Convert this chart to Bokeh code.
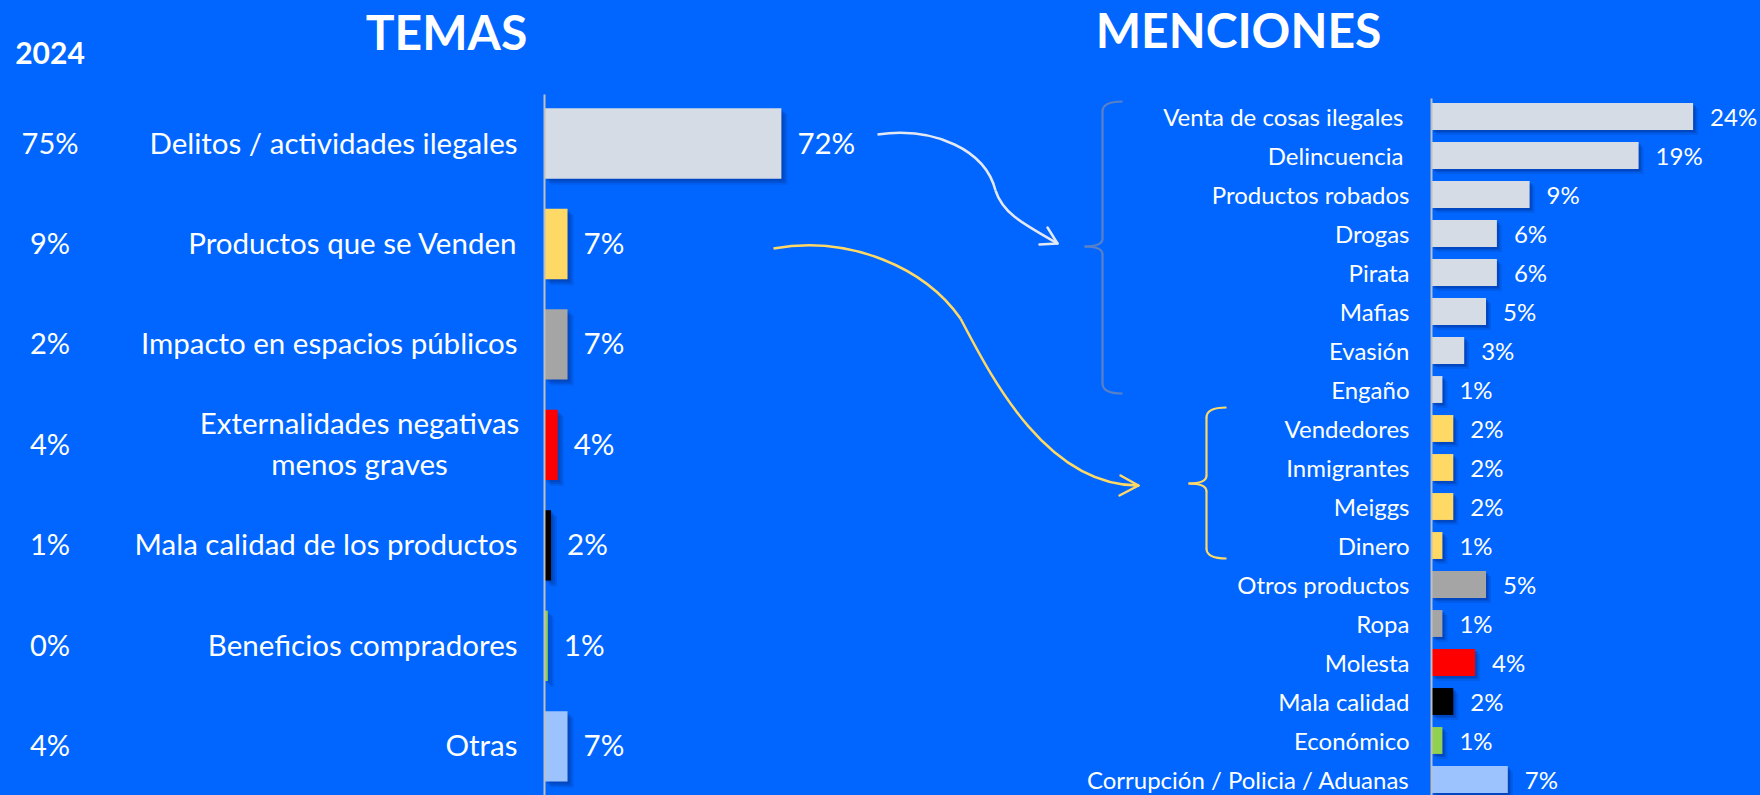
from bokeh.plotting import figure
from bokeh.models import Range1d, ColumnDataSource
from bokeh.core.properties import value
from bokeh.embed import file_html
from bokeh.resources import INLINE

# ---------------- data ----------------
temas = ["Delitos / actividades ilegales", "Productos que se Venden",
         "Impacto en espacios públicos", "Externalidades negativas\nmenos graves",
         "Mala calidad de los productos", "Beneficios compradores", "Otras"]
temas_pct = [72, 7, 7, 4, 2, 1, 7]
temas_2024 = [75, 9, 2, 4, 1, 0, 4]
temas_colors = ["#D6DCE5", "#FFD966", "#A5A5A5", "#FF0000", "#000000", "#92D050", "#9DC3FF"]

menciones = ["Venta de cosas ilegales ", "Delincuencia ", "Productos robados", "Drogas",
             "Pirata", "Mafias", "Evasión", "Engaño", "Vendedores", "Inmigrantes",
             "Meiggs", "Dinero", "Otros productos", "Ropa", "Molesta", "Mala calidad",
             "Económico", "Corrupción / Policia / Aduanas"]
menciones_pct = [24, 19, 9, 6, 6, 5, 3, 1, 2, 2, 2, 1, 5, 1, 4, 2, 1, 7]
menciones_colors = ["#D6DCE5"] * 8 + ["#FFD966"] * 4 + ["#A5A5A5"] * 2 + \
                   ["#FF0000", "#000000", "#92D050", "#9DC3FF"]

title_left = "TEMAS"
title_right = "MENCIONES"
year_label = "2024"

# ---------------- layout ----------------
W, H = 1760, 795
BG = "#0066FF"
M = 0  # page offset (body margin set to 0 below)
FONT = value("Lato")

p = figure(width=W, height=H, x_range=Range1d(0, W), y_range=Range1d(H, 0),
           output_backend="svg", toolbar_location=None, min_border=0)
p.axis.visible = False
p.grid.visible = False
p.outline_line_color = None
p.background_fill_color = BG
p.border_fill_color = BG

# left panel scales (px of zero, px per %, px of first row, px per row)
LX0, LXS = 544 - M, 3.29
LY0, LYS = 143.0 - M, 100.47
p.extra_x_ranges["lx"] = Range1d(-LX0 / LXS, (W - LX0) / LXS)
p.extra_y_ranges["ly"] = Range1d((H - LY0) / LYS, -LY0 / LYS)

# right panel scales
RX0, RXS = 1431 - M, 10.9
RY0, RYS = 116.0 - M, 39.0
p.extra_x_ranges["rx"] = Range1d(-RX0 / RXS, (W - RX0) / RXS)
p.extra_y_ranges["ry"] = Range1d((H - RY0) / RYS, -RY0 / RYS)

# ---------------- left panel ----------------
n_l = len(temas)
single = [i for i in range(n_l) if "\n" not in temas[i]]
multi = [i for i in range(n_l) if "\n" in temas[i]]
src_l = ColumnDataSource(dict(
    y=list(range(n_l)), v=temas_pct, c=temas_colors,
    pct=[f"{v}%" for v in temas_pct], y24=[f"{v}%" for v in temas_2024]))

# shadows
for off, a in [(2, 0.22), (4, 0.22), (6, 0.16)]:
    p.hbar(y=[i + off / LYS for i in range(n_l)], left=off / LXS,
           right=[v + off / LXS for v in temas_pct], height=0.70,
           fill_color="#002a80", fill_alpha=a, line_color=None,
           x_range_name="lx", y_range_name="ly")
p.hbar(y="y", left=0, right="v", height=0.70, fill_color="c", line_color=None,
       source=src_l, x_range_name="lx", y_range_name="ly")
# axis line
p.segment(x0=[0], y0=[(94 - M - LY0) / LYS], x1=[0], y1=[(H - LY0) / LYS],
          line_color="#BFBFBF", line_width=2, x_range_name="lx", y_range_name="ly")

p.text(x="v", y="y", text="pct", source=src_l, x_offset=16, y_offset=-1.5,
       text_align="left",
       text_baseline="middle", text_color="white", text_font=FONT,
       text_font_size="29.5px", x_range_name="lx", y_range_name="ly")
p.text(x=[0] * len(single), y=single, text=[temas[i] for i in single], x_offset=-27,
       y_offset=-1.5, text_align="right", text_baseline="middle", text_color="white",
       text_font=FONT, text_font_size="29.5px", x_range_name="lx", y_range_name="ly")
p.text(x=[0] * len(multi), y=multi, text=[temas[i] for i in multi], x_offset=-185,
       y_offset=-1.5, text_align="center", text_baseline="middle", text_color="white",
       text_line_height=1.17,
       text_font=FONT, text_font_size="29.5px", x_range_name="lx", y_range_name="ly")
p.text(x=49.5 - M, y="y", text="y24", source=src_l, y_offset=-1.5, text_align="center",
       text_baseline="middle", text_color="white", text_font=FONT,
       text_font_size="29px", y_range_name="ly")

# ---------------- right panel ----------------
n_r = len(menciones)
src_r = ColumnDataSource(dict(
    y=list(range(n_r)), v=menciones_pct, c=menciones_colors, lab=menciones,
    pct=[f"{v}%" for v in menciones_pct]))
for off, a in [(2, 0.22), (3, 0.22), (5, 0.16)]:
    p.hbar(y=[i + off / RYS for i in range(n_r)], left=off / RXS,
           right=[v + off / RXS for v in menciones_pct], height=0.69,
           fill_color="#002a80", fill_alpha=a, line_color=None,
           x_range_name="rx", y_range_name="ry")
p.hbar(y="y", left=0, right="v", height=0.69, fill_color="c", line_color=None,
       source=src_r, x_range_name="rx", y_range_name="ry")
p.segment(x0=[0], y0=[(98 - M - RY0) / RYS], x1=[0], y1=[(H - RY0) / RYS],
          line_color="#BFBFBF", line_width=2, x_range_name="rx", y_range_name="ry")
p.text(x="v", y="y", text="pct", source=src_r, x_offset=17, text_align="left",
       text_baseline="middle", text_color="white", text_font=FONT,
       text_font_size="24px", x_range_name="rx", y_range_name="ry")
p.text(x=0, y="y", text="lab", source=src_r, x_offset=-22, text_align="right",
       text_baseline="middle", text_color="white", text_font=FONT,
       text_font_size="24px", x_range_name="rx", y_range_name="ry")

# ---------------- titles ----------------
p.text(x=[446 - M], y=[31 - M], text=[title_left], text_align="center",
       text_baseline="middle", text_color="white", text_font=FONT,
       text_font_style="bold", text_font_size="48px")
p.text(x=[1238 - M], y=[29 - M], text=[title_right], text_align="center",
       text_baseline="middle", text_color="white", text_font=FONT,
       text_font_style="bold", text_font_size="48px")
p.text(x=[49.5 - M], y=[52 - M], text=[year_label], text_align="center",
       text_baseline="middle", text_color="white", text_font=FONT,
       text_font_style="bold", text_font_size="30px")

# ---------------- annotations: arrows & braces (page px) ----------------
def sh(pts):
    return [(x - M, y - M) for x, y in pts]

WHITE_ARR = "#E3E8F2"
YEL = "#FFD966"
BRACE1 = "#5A80C6"

def bez(P0, C0, C1, P1, color, w):
    (x0, y0), (cx0, cy0), (cx1, cy1), (x1, y1) = sh([P0, C0, C1, P1])
    p.bezier(x0=[x0], y0=[y0], cx0=[cx0], cy0=[cy0], cx1=[cx1], cy1=[cy1],
             x1=[x1], y1=[y1], line_color=color, line_width=w)

def quad(P0, C, P1, color, w):
    (x0, y0), (cx, cy), (x1, y1) = sh([P0, C, P1])
    p.quadratic(x0=[x0], y0=[y0], cx=[cx], cy=[cy], x1=[x1], y1=[y1],
                line_color=color, line_width=w)

def seg(P0, P1, color, w):
    (x0, y0), (x1, y1) = sh([P0, P1])
    p.segment(x0=[x0], y0=[y0], x1=[x1], y1=[y1], line_color=color, line_width=w,
              line_cap="round")

# white arrow
bez((877, 134), (935, 126), (985, 150), (995, 190), WHITE_ARR, 2.5)
bez((995, 190), (1002, 212), (1020, 222), (1057, 243), WHITE_ARR, 2.5)
seg((1057, 243), (1047, 227), WHITE_ARR, 2.5)
seg((1057, 243), (1039, 244), WHITE_ARR, 2.5)

# yellow arrow
bez((773, 248), (850, 234), (925, 268), (960, 318), YEL, 2.5)
bez((960, 318), (990, 375), (1045, 485), (1138, 485), YEL, 2.5)
seg((1138, 485), (1120, 475), YEL, 2.5)
seg((1138, 485), (1119, 495), YEL, 2.5)

def brace(x_line, x_tip, x_end, y_top, y_mid, y_bot, color, w):
    quad((x_end, y_top), (x_line, y_top), (x_line, y_top + 10), color, w)
    seg((x_line, y_top + 10), (x_line, y_mid - 8), color, w)
    quad((x_line, y_mid - 8), (x_line, y_mid), (x_tip, y_mid), color, w)
    quad((x_tip, y_mid), (x_line, y_mid), (x_line, y_mid + 8), color, w)
    seg((x_line, y_mid + 8), (x_line, y_bot - 10), color, w)
    quad((x_line, y_bot - 10), (x_line, y_bot), (x_end, y_bot), color, w)

brace(1102, 1084, 1122, 101, 246, 393, BRACE1, 2.2)
brace(1206, 1188, 1226, 407, 483, 558, YEL, 2.2)

html = file_html(p, INLINE)
html = html.replace("</head>",
                    "<style>html,body{background:#0066FF;margin:0;padding:0;overflow:hidden;}</style></head>")
open("out.html", "w").write(html)
